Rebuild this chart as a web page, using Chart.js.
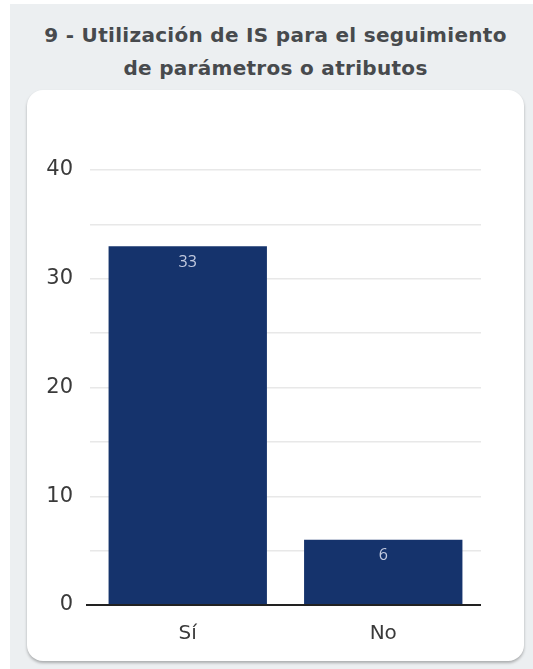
<!DOCTYPE html>
<html>
<head>
<meta charset="utf-8">
<script src="https://cdn.jsdelivr.net/npm/chart.js@4/dist/chart.umd.min.js"></script>
<style>
  html, body { margin: 0; padding: 0; background: #ffffff; width: 533px; height: 669px; overflow: hidden; }
  .bg { position: absolute; left: 10px; top: 4px; width: 523px; height: 665px; background: #eceff1; }
  .title { position: absolute; left: 27px; top: 19px; width: 497px; text-align: center; letter-spacing: 0.3px;
           font-family: "DejaVu Sans", sans-serif; font-weight: 700; font-size: 20px; line-height: 33px; color: #474a4d; }
  .card { position: absolute; left: 27px; top: 90px; width: 497px; height: 571px; background: #ffffff;
          border-radius: 16px; box-shadow: 0 2px 3px rgba(0,0,0,0.28); }
  canvas { position: absolute; left: 0; top: 0; }
</style>
</head>
<body>
<div class="bg"></div>
<div class="title">9 - Utilización de IS para el seguimiento<br>de parámetros o atributos</div>
<div class="card"><canvas id="c" width="497" height="571"></canvas></div>
<script>
const categories = ["Sí", "No"];
const values = [33, 6];
const yTickLabels = [0, 10, 20, 30, 40];

const valueLabels = {
  id: 'valueLabels',
  afterDatasetsDraw(chart) {
    const ctx = chart.ctx;
    const meta = chart.getDatasetMeta(0);
    ctx.save();
    ctx.fillStyle = '#c3cbe0';
    ctx.font = '16px "Open Sans", sans-serif';
    ctx.textAlign = 'center';
    ctx.textBaseline = 'middle';
    meta.data.forEach((bar, i) => {
      ctx.fillText(String(values[i]), bar.x, bar.y + 16);
    });
    ctx.restore();
  }
};

new Chart(document.getElementById('c'), {
  type: 'bar',
  data: {
    labels: categories,
    datasets: [{
      data: values,
      backgroundColor: '#15336c',
      borderWidth: 0,
      categoryPercentage: 0.9,
      barPercentage: 0.9
    }]
  },
  options: {
    responsive: false,
    animation: false,
    events: [],
    layout: { padding: { top: 80, right: 43, left: 0, bottom: 0 } },
    plugins: { legend: { display: false }, tooltip: { enabled: false } },
    scales: {
      x: {
        grid: { display: false, drawTicks: false },
        border: { display: false },
        ticks: { color: '#3a3a3a', font: { family: '"DejaVu Sans", sans-serif', size: 20 }, padding: 17 },
        afterFit(scale) { scale.height = 56; }
      },
      y: {
        min: 0, max: 40,
        border: { display: false },
        grid: {
          color: (c) => c.tick && c.tick.value === 0 ? '#222222' : '#e8e8e8',
          lineWidth: (c) => c.tick && c.tick.value === 0 ? 2 : 1.5,
          tickLength: 4,
          tickColor: (c) => c.tick && c.tick.value === 0 ? '#222222' : 'rgba(0,0,0,0)'
        },
        ticks: {
          stepSize: 5,
          padding: 13,
          color: '#3a3a3a',
          font: { family: '"DejaVu Sans", sans-serif', size: 21 },
          callback: (v) => yTickLabels.includes(v) ? String(v) : ''
        },
        afterFit(scale) { scale.width = 63; }
      }
    }
  },
  plugins: [valueLabels]
});
</script>
</body>
</html>
